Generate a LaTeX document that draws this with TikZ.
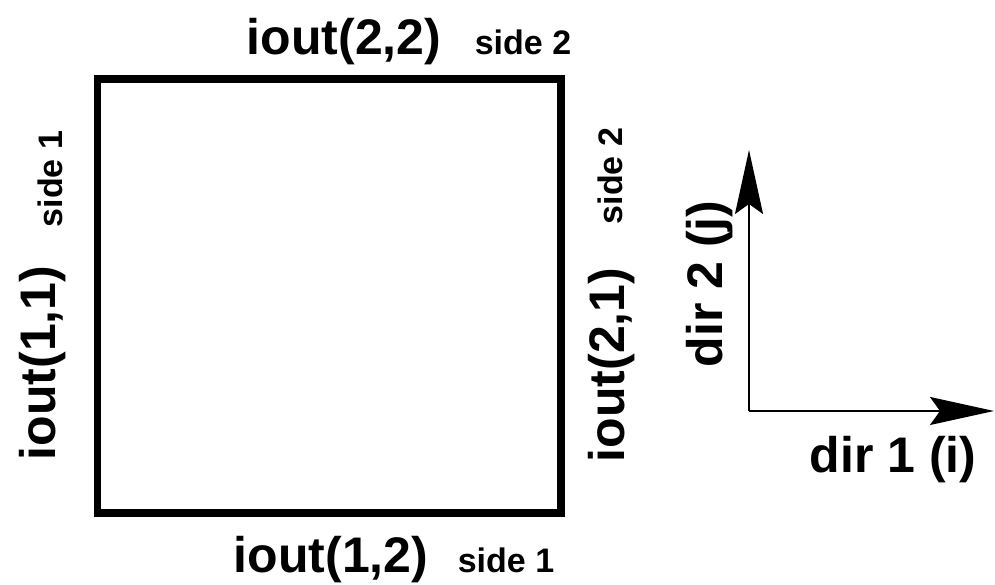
\documentclass[tikz,border=0pt]{standalone}
\usepackage{fontspec}
\setmainfont{Liberation Sans}
\usepackage{tikz}
\usetikzlibrary{arrows.meta}

\tikzset{
  iolabel/.style={font=\fontsize{50}{60}\selectfont\bfseries, inner sep=0pt, anchor=base},
  sidelabel/.style={font=\fontsize{34}{40}\selectfont\bfseries, inner sep=0pt, anchor=base},
  dirarrow/.style={line width=2pt, -{Stealth[length=64pt,width=28pt,inset=10pt]}}
}

\begin{document}
\begin{tikzpicture}[x=1pt,y=1pt]
            \useasboundingbox (0,0) rectangle (995,585);

            % The cell
            \draw[line width=7.5pt] (97.5,72) rectangle (561,506);

            % Top and bottom faces
            \node[iolabel] (ioutTT) at (344,530) {iout(2,2)};
            \node[sidelabel] (sideTT) at (523,530) {side 2};
            \node[iolabel] (ioutBB) at (331,12) {iout(1,2)};
            \node[sidelabel] (sideBB) at (506,12) {side 1};

            % Left and right faces
            \node[iolabel, rotate=90] (ioutLL) at (55,222) {iout(1,1)};
            \node[sidelabel, rotate=90] (sideLL) at (62,406) {side 1};
            \node[iolabel, rotate=90] (ioutRR) at (624,220) {iout(2,1)};
            \node[sidelabel, rotate=90] (sideRR) at (622,409) {side 2};

            % Index directions
            \coordinate (origin) at (749,174);
            \coordinate (jtip) at (749,435);
            \coordinate (itip) at (994,174);
            \draw[dirarrow] (origin) -- (jtip);
            \draw[dirarrow] (origin) -- (itip);
            \node[iolabel, rotate=90] (dirJ) at (722,301) {dir 2 (j)};
            \node[iolabel] (dirI) at (893,112) {dir 1 (i)};
        \end{tikzpicture}
\end{document}
